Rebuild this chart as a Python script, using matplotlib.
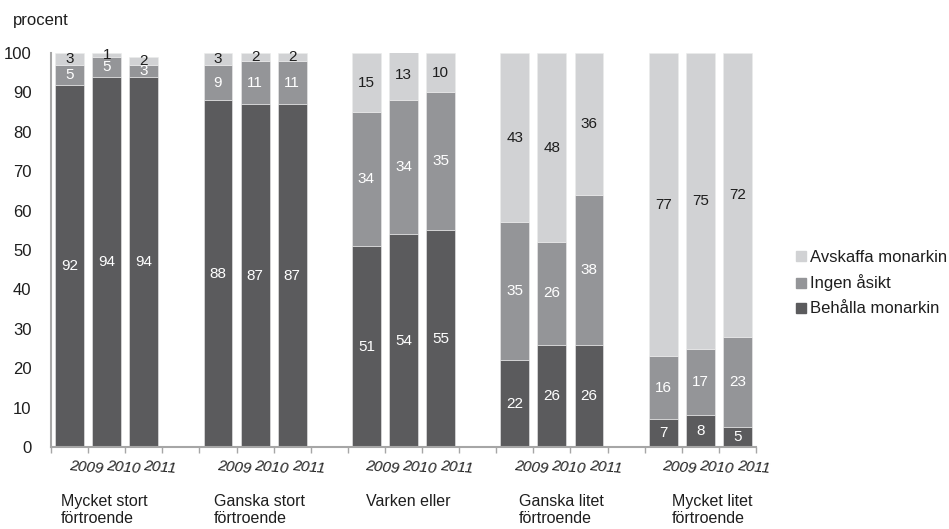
import matplotlib
matplotlib.use("Agg")
import matplotlib.pyplot as plt
from matplotlib.patches import Patch
import matplotlib.transforms as mtransforms

plt.rcParams['font.family'] = ['Liberation Sans', 'DejaVu Sans']

groups = ["Mycket stort\nförtroende", "Ganska stort\nförtroende", "Varken eller",
          "Ganska litet\nförtroende", "Mycket litet\nförtroende"]
years = ["2009", "2010", "2011"]
behalla = [92, 94, 94, 88, 87, 87, 51, 54, 55, 22, 26, 26, 7, 8, 5]
ingen = [5, 5, 3, 9, 11, 11, 34, 34, 35, 35, 26, 38, 16, 17, 23]
avskaffa = [3, 1, 2, 3, 2, 2, 15, 13, 10, 43, 48, 36, 77, 75, 72]
series_names = ["Behålla monarkin", "Ingen åsikt", "Avskaffa monarkin"]

c_dark = "#5b5b5d"
c_mid = "#949598"
c_light = "#d1d2d4"

fig = plt.figure(figsize=(9.49, 5.29), dpi=100)
ax = fig.add_axes([51/949, 1-447/529, (756-51)/949, (447-53)/529])

# x positions: 3 bars per group, one empty slot between groups
xs = [g*4 + i for g in range(len(groups)) for i in range(len(years))]
w = 0.78
b1 = ax.bar(xs, behalla, w, color=c_dark, edgecolor="#ececec", linewidth=0.4, label=series_names[0])
b2 = ax.bar(xs, ingen, w, bottom=behalla, color=c_mid, edgecolor="#ececec", linewidth=0.4, label=series_names[1])
bot3 = [a + b for a, b in zip(behalla, ingen)]
b3 = ax.bar(xs, avskaffa, w, bottom=bot3, color=c_light, edgecolor="#ececec", linewidth=0.4, label=series_names[2])

for x, a, b, c in zip(xs, behalla, ingen, avskaffa):
    ax.text(x, a/2, str(a), ha='center', va='center', color='white', fontsize=11)
    ax.text(x, a + b/2, str(b), ha='center', va='center', color='white', fontsize=11)
    ax.text(x, a + b + c/2, str(c), ha='center', va='center', color='#1e1e1e', fontsize=11)

ax.set_xlim(-0.5, 18.5)
ax.set_ylim(0, 100)
ax.set_yticks(range(0, 101, 10))
ax.tick_params(axis='y', length=0, pad=14, labelsize=12, labelcolor='#1e1e1e')
ax.set_xticks([i - 0.5 for i in range(20)])
ax.set_xticklabels([])
ax.tick_params(axis='x', length=4, width=1, color='#a6a6a6', direction='out')
for s in ['top', 'right']:
    ax.spines[s].set_visible(False)
for s in ['left', 'bottom']:
    ax.spines[s].set_color('#a6a6a6')
    ax.spines[s].set_linewidth(1.5)

# year labels
trans = mtransforms.blended_transform_factory(ax.transData, fig.transFigure)
for g in range(len(groups)):
    for i, y in enumerate(years):
        ax.text(g*4 + i + 0.44, 1 - 467/529, y, transform=trans, ha='center', va='center',
                fontsize=11, style='italic', rotation=-5, color='#1e1e1e')

# group labels
for g, name in enumerate(groups):
    fig.text((61 + g*152.7)/949, 1 - 494/529, name, ha='left', va='top', fontsize=11.5,
             color='#1e1e1e', linespacing=1.15)

fig.text(13/949, 1 - 20/529, "procent", ha='left', va='center', fontsize=12, color='#1e1e1e')

handles = [Patch(color=c_light), Patch(color=c_mid), Patch(color=c_dark)]
labels = [series_names[2], series_names[1], series_names[0]]
fig.legend(handles, labels, loc='center left', bbox_to_anchor=(788/949, 1 - 283/529),
           frameon=False, fontsize=12, handlelength=0.55, handleheight=0.55,
           handletextpad=0.3, labelspacing=0.6, borderpad=0, labelcolor='#1e1e1e')

fig.savefig("out.png", dpi=100)
